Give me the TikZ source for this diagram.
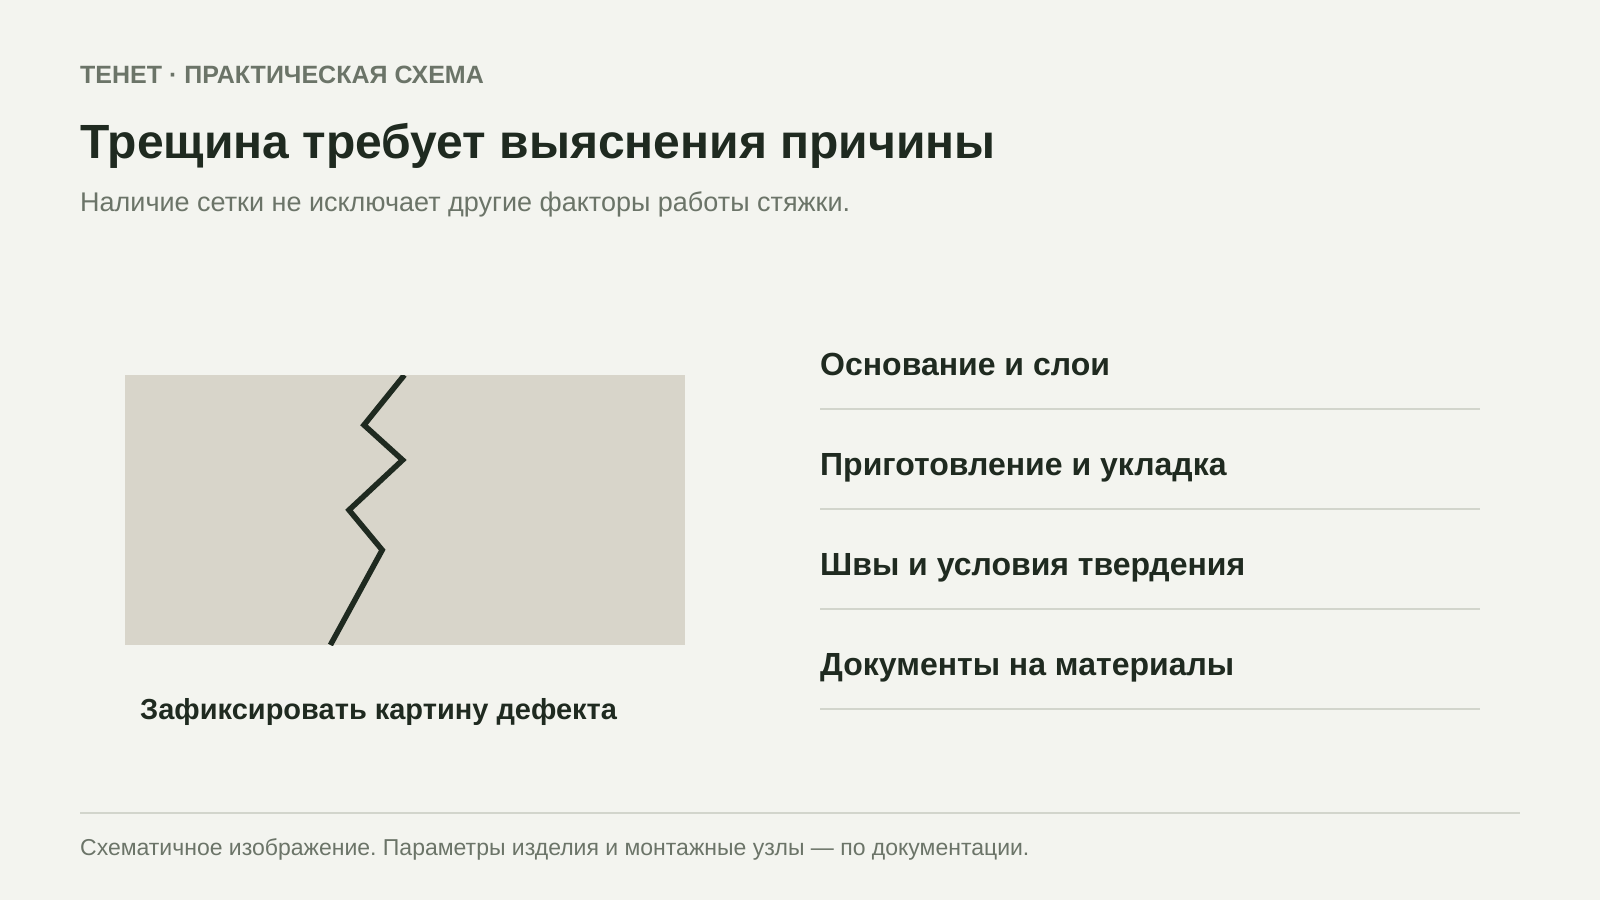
\documentclass[tikz,border=0pt]{standalone}
\usepackage{fontspec}
\setmainfont{Liberation Sans}
\frenchspacing
\definecolor{bg}{HTML}{F3F4EF}
\definecolor{ink}{HTML}{1F2A20}
\definecolor{muted}{HTML}{6B7468}
\definecolor{slab}{HTML}{D8D5CA}
\definecolor{rule}{HTML}{D2D5CC}
\tikzset{
  kicker/.style={anchor=base west, inner sep=0pt, text=muted, font=\fontsize{25}{29}\selectfont\bfseries},
  titletext/.style={anchor=base west, inner sep=0pt, text=ink, font=\fontsize{48}{54}\selectfont\bfseries},
  subtext/.style={anchor=base west, inner sep=0pt, text=muted, font=\fontsize{27}{32}\selectfont},
  item/.style={anchor=base west, inner sep=0pt, text=ink, font=\fontsize{32}{36}\selectfont\bfseries},
  caption/.style={anchor=base west, inner sep=0pt, text=ink, font=\fontsize{29}{33}\selectfont\bfseries},
  foot/.style={anchor=base west, inner sep=0pt, text=muted, font=\fontsize{23}{28}\selectfont},
  divider/.style={draw=rule, line width=1.5pt},
  crack/.style={draw=ink, line width=5.5pt, line join=miter}
}
\begin{document}
\begin{tikzpicture}[x=1pt,y=-1pt]
\fill[bg] (0,0) rectangle (1600,900);
\useasboundingbox (0,0) rectangle (1600,900);
\node[kicker] (kick) at (80,83) {ТЕНЕТ · ПРАКТИЧЕСКАЯ СХЕМА};
\node[titletext] (title) at (80,158) {Трещина требует выяснения причины};
\node[subtext] (sub) at (80,211) {Наличие сетки не исключает другие факторы работы стяжки.};
% slab
\fill[slab] (125,375) rectangle (685,645);
\coordinate (c1) at (404.4,375);
\coordinate (c2) at (364,425);
\coordinate (c3) at (402.6,460);
\coordinate (c4) at (349,510);
\coordinate (c5) at (382.2,550);
\coordinate (c6) at (330.4,645);
\begin{scope}
\clip (125,375) rectangle (685,645);
\draw[crack] (c1) -- (c2) -- (c3) -- (c4) -- (c5) -- (c6);
\end{scope}
\node[caption] (cap) at (140,719) {Зафиксировать картину дефекта};
% list
\node[item] (i1) at (820,375) {Основание и слои};
\node[item] (i2) at (820,475) {Приготовление и укладка};
\node[item] (i3) at (820,575) {Швы и условия твердения};
\node[item] (i4) at (820,675) {Документы на материалы};
\coordinate (l1a) at (820,409); \coordinate (l1b) at (1480,409);
\coordinate (l2a) at (820,509); \coordinate (l2b) at (1480,509);
\coordinate (l3a) at (820,609); \coordinate (l3b) at (1480,609);
\coordinate (l4a) at (820,709); \coordinate (l4b) at (1480,709);
\draw[divider] (l1a) -- (l1b);
\draw[divider] (l2a) -- (l2b);
\draw[divider] (l3a) -- (l3b);
\draw[divider] (l4a) -- (l4b);
% footer
\coordinate (fa) at (80,813); \coordinate (fb) at (1520,813);
\draw[divider] (fa) -- (fb);
\node[foot] (ft) at (80,855) {Схематичное изображение. Параметры изделия и монтажные узлы — по документации.};
\end{tikzpicture}
\end{document}
